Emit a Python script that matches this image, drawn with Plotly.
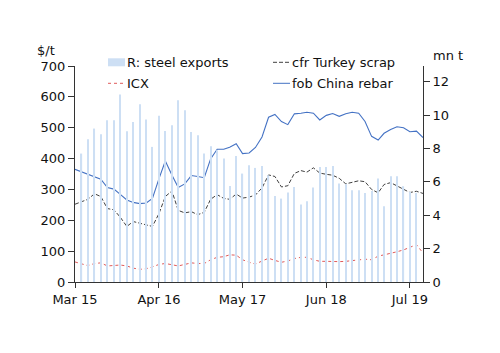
import plotly.graph_objects as go
import pandas as pd

months = pd.date_range("2015-03-01", periods=55, freq="MS").strftime("%Y-%m-%d").tolist()

rebar = [365, 357, 350, 342, 333, 306, 301, 284, 266, 258, 254, 256, 271, 335, 392, 347, 306, 318, 345, 342,
         338, 399, 430, 430, 437, 448, 416, 418, 436, 470, 534, 543, 520, 510, 545, 547, 550, 547, 525, 540,
         546, 537, 545, 550, 547, 520, 472, 460, 482, 494, 503, 500, 487, 489, 468]
scrap = [252, 260, 268, 286, 277, 238, 234, 210, 180, 196, 190, 186, 180, 222, 277, 295, 232, 224, 228, 218,
         226, 268, 283, 271, 268, 285, 272, 275, 282, 305, 347, 342, 308, 312, 352, 361, 356, 370, 353, 349,
         346, 336, 318, 323, 328, 325, 300, 289, 316, 322, 312, 301, 290, 294, 287]
icx = [65, 60, 53, 60, 62, 52, 54, 55, 52, 45, 41, 43, 49, 57, 60, 56, 52, 57, 62, 60,
       60, 72, 80, 82, 88, 87, 72, 64, 58, 68, 77, 70, 64, 68, 76, 80, 80, 72, 67, 67,
       66, 66, 67, 69, 72, 74, 72, 84, 88, 92, 98, 104, 112, 121, 94]
exports_months = months[1:54]
exports = [7.7, 8.56, 9.2, 8.86, 9.7, 9.7, 11.24, 9.04, 9.6, 10.66, 9.74, 8.1, 9.96, 9.06, 9.4, 10.9, 10.3, 9.0,
           8.8, 7.7, 8.14, 7.9, 7.4, 5.76, 7.56, 6.5, 7.0, 6.84, 6.96, 6.4, 5.16, 5.0, 5.36, 5.7, 4.64, 4.84,
           5.66, 6.9, 6.9, 6.96, 5.9, 5.86, 5.5, 5.5, 5.34, 5.45, 6.2, 4.54, 6.34, 6.34, 5.74, 5.4, 5.34]

tick_dates = ["2015-03-01", "2016-04-01", "2017-05-01", "2018-06-01", "2019-07-01"]
tick_text = ["Mar 15", "Apr 16", "May 17", "Jun 18", "Jul 19"]

FONT = "DejaVu Sans"
AX = "#333333"
BAR_C = "#cddff4"
REBAR_C = "#4472c4"
SCRAP_C = "#404040"
ICX_C = "#e05a5a"
SCRAP_DASH = "4px,2px"

fig = go.Figure()
fig.add_trace(go.Bar(x=exports_months, y=exports, yaxis="y2", marker_color=BAR_C,
                     marker_line_width=0, width=[5.5 * 86400000] * len(exports), name="R: steel exports"))
fig.add_trace(go.Scatter(x=months, y=scrap, mode="lines", line=dict(color=SCRAP_C, width=1, dash=SCRAP_DASH),
                         name="cfr Turkey scrap"))
fig.add_trace(go.Scatter(x=months, y=icx, mode="lines", line=dict(color=ICX_C, width=1, dash="dot"),
                         name="ICX"))
fig.add_trace(go.Scatter(x=months, y=rebar, mode="lines", line=dict(color=REBAR_C, width=1.1),
                         name="fob China rebar"))

fig.update_layout(
    width=500, height=353,
    margin=dict(l=75, r=77, t=66, b=71),
    paper_bgcolor="white", plot_bgcolor="white",
    font=dict(family=FONT, size=13, color="#111111"),
    showlegend=False,
    xaxis=dict(type="date", range=["2015-03-01", "2019-09-01"], tickvals=tick_dates, ticktext=tick_text,
               showline=True, linecolor=AX, linewidth=1, ticks="outside", ticklen=5, tickcolor=AX,
               showgrid=False, zeroline=False),
    yaxis=dict(range=[0, 700], dtick=100, showline=True, linecolor=AX, linewidth=1, ticks="outside",
               ticklen=6, tickcolor=AX, showgrid=False, zeroline=False),
    yaxis2=dict(range=[0, 12.95], dtick=2, overlaying="y", side="right", showline=True, linecolor=AX,
                linewidth=1, ticks="outside", ticklen=6, tickcolor=AX, showgrid=False, zeroline=False),
)

def px_x(px):
    return (px - 75) / 348.0

def px_y(py):
    return (281.7 - py) / 216.0

# axis titles
fig.add_annotation(text="$/t", xref="paper", yref="paper", x=px_x(46), y=px_y(50), showarrow=False,
                   xanchor="center", yanchor="middle", font=dict(size=13))
fig.add_annotation(text="mn t", xref="paper", yref="paper", x=px_x(448), y=px_y(55), showarrow=False,
                   xanchor="center", yanchor="middle", font=dict(size=13))

# manual legend
legend_items = [
    ("R: steel exports", "bar", 108, 62),
    ("ICX", "icx", 108, 83),
    ("cfr Turkey scrap", "scrap", 273, 62),
    ("fob China rebar", "rebar", 273, 83),
]
for label, kind, lx, ly in legend_items:
    if kind == "bar":
        fig.add_shape(type="rect", xref="paper", yref="paper", x0=px_x(lx), x1=px_x(lx + 17),
                      y0=px_y(ly + 4), y1=px_y(ly - 4), fillcolor=BAR_C, line_width=0)
    else:
        col = {"icx": ICX_C, "scrap": SCRAP_C, "rebar": REBAR_C}[kind]
        dash = {"icx": "dot", "scrap": SCRAP_DASH, "rebar": "solid"}[kind]
        fig.add_shape(type="line", xref="paper", yref="paper", x0=px_x(lx), x1=px_x(lx + 17),
                      y0=px_y(ly), y1=px_y(ly), line=dict(color=col, width=1, dash=dash))
    fig.add_annotation(text=label, xref="paper", yref="paper", x=px_x(lx + 17), y=px_y(ly),
                       showarrow=False, xanchor="left", yanchor="middle", font=dict(size=13))

fig.write_html("out.html")
